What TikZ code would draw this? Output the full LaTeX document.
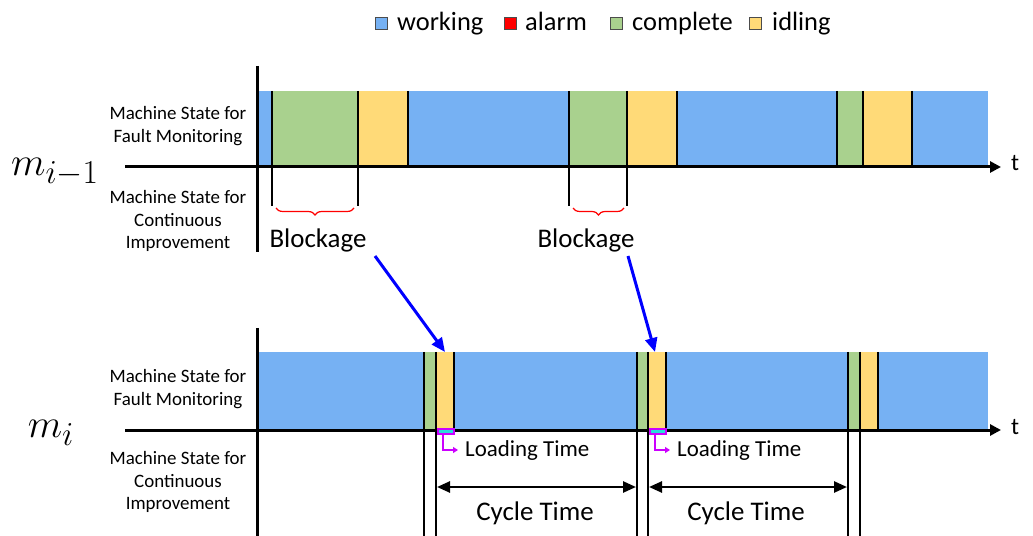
\documentclass[tikz,border=0pt]{standalone}
\usepackage{fontspec}
\setmainfont{Carlito}
\usetikzlibrary{arrows.meta,decorations.pathreplacing}
\definecolor{wblue}{RGB}{118,177,243}
\definecolor{cgreen}{RGB}{169,209,142}
\definecolor{iyellow}{RGB}{255,218,120}
\definecolor{alarmred}{RGB}{255,0,0}
\definecolor{lmag}{RGB}{204,0,255}
\definecolor{lcyan}{RGB}{40,220,220}
\begin{document}
\begin{tikzpicture}[x=1bp,y=-1bp,
  axis/.style={line width=3bp},
  sep/.style={line width=2bp},
  lab/.style={font=\fontsize{19}{23}\selectfont, align=center},
  big/.style={font=\fontsize{27}{32}\selectfont},
  leg/.style={font=\fontsize{26.5}{30}\selectfont, anchor=base west, inner sep=0},
  legbox/.style={draw=black!70, line width=0.6bp, minimum size=12bp, inner sep=0},
  blk/.style={draw=blue, line width=3bp, -{Triangle[length=14bp,width=12bp]}},
  cyc/.style={line width=2.5bp, {Triangle[length=13bp,width=11bp]}-{Triangle[length=13bp,width=11bp]}},
  ltime/.style={font=\fontsize{23}{27}\selectfont, anchor=west, inner sep=0},
  bracest/.style={red, line width=1.2bp, decorate, decoration={brace,mirror,amplitude=7bp}}
]
\useasboundingbox (0,0) rectangle (1033,536);

% legend
\node[legbox, fill=wblue] (lw) at (381,23.5) {};
\node[leg] (tw) at (397,31) {working};
\node[legbox, fill=alarmred] (la) at (510,23.5) {};
\node[leg] (ta) at (525,31) {alarm};
\node[legbox, fill=cgreen] (lc) at (616,23.5) {};
\node[leg] (tc) at (632,31) {complete};
\node[legbox, fill=iyellow] (li) at (755,23.5) {};
\node[leg] (ti) at (772,31) {idling};

% ---------- top panel ----------
\foreach \a/\b/\c in {257/272/wblue,272/358/cgreen,358/408/iyellow,408/569/wblue,569/627/cgreen,627/677/iyellow,677/837/wblue,837/863/cgreen,863/912/iyellow,912/988/wblue}
  \fill[\c] (\a,91) rectangle (\b,167);
\foreach \x in {272,358,408,569,627,677,837,863,912}
  \draw[sep] (\x,91) -- (\x,167);
\foreach \x in {272,358,569,627}
  \draw[sep] (\x,167) -- (\x,206);
\draw[axis] (257,66) -- (257,252);
\coordinate (t1s) at (125,167);
\coordinate (t1e) at (1001,167);
\draw[axis,-{Triangle[length=11bp,width=11bp]}] (t1s) -- (t1e);
\node[font=\fontsize{24}{28}\selectfont] (tt1) at (1015,163) {t};

\node[lab] (fm1) at (178,126) {Machine State for\\Fault Monitoring};
\node[lab] (ci1) at (178,221) {Machine State for\\Continuous\\Improvement};
\node (m1) at (55,172) {\scalebox{1.62}{\Huge$m_{i-1}$}};

\coordinate (br1a) at (276,208);
\coordinate (br1b) at (354,208);
\coordinate (br2a) at (573,208);
\coordinate (br2b) at (624,208);
\draw[bracest] (br1a) -- (br1b);
\draw[bracest] (br2a) -- (br2b);
\node[big] (b1) at (318,240) {Blockage};
\node[big] (b2) at (586,240) {Blockage};

% ---------- bottom panel ----------
\foreach \a/\b/\c in {257/424/wblue,424/436/cgreen,436/454/iyellow,454/637/wblue,637/648/cgreen,648/666/iyellow,666/848/wblue,848/860/cgreen,860/878/iyellow,878/988/wblue}
  \fill[\c] (\a,352) rectangle (\b,430);
\foreach \x in {424,436,454,637,648,666,848,860,878}
  \draw[sep] (\x,352) -- (\x,430);
\foreach \x in {424,436,637,648,848,860}
  \draw[sep] (\x,430) -- (\x,536);
\draw[axis] (257,328) -- (257,536);
\coordinate (t2s) at (125,430);
\coordinate (t2e) at (1001,430);
\draw[axis,-{Triangle[length=11bp,width=11bp]}] (t2s) -- (t2e);
\node[font=\fontsize{24}{28}\selectfont] (tt2) at (1015,427) {t};

\node[lab] (fm2) at (178,389) {Machine State for\\Fault Monitoring};
\node[lab] (ci2) at (178,482) {Machine State for\\Continuous\\Improvement};
\node (m2) at (51,433) {\scalebox{1.62}{\Huge$m_{i}$}};

% loading time markers
\node[draw=lmag, fill=lcyan, line width=1.5bp, minimum width=16bp, minimum height=5bp, inner sep=0, anchor=north west] (lt1) at (437,428) {};
\node[draw=lmag, fill=lcyan, line width=1.5bp, minimum width=16bp, minimum height=5bp, inner sep=0, anchor=north west] (lt2) at (649,428) {};
\coordinate (lb1) at (443,434);
\coordinate (lb2) at (655,434);
\coordinate (la1) at (458,450);
\coordinate (la2) at (670,450);
\draw[lmag, line width=1.8bp, -{Triangle[length=5bp,width=6bp]}] (lb1) |- (la1);
\draw[lmag, line width=1.8bp, -{Triangle[length=5bp,width=6bp]}] (lb2) |- (la2);
\node[ltime] (ltx1) at (465,451) {Loading Time};
\node[ltime] (ltx2) at (677,451) {Loading Time};

% cycle time
\coordinate (c1a) at (437,487);
\coordinate (c1b) at (636,487);
\coordinate (c2a) at (649,487);
\coordinate (c2b) at (847,487);
\draw[cyc] (c1a) -- (c1b);
\draw[cyc] (c2a) -- (c2b);
\node[big] (ct1) at (535,513) {Cycle Time};
\node[big] (ct2) at (746,513) {Cycle Time};

% blockage arrows
\coordinate (a1s) at (375,256);
\coordinate (a1e) at (445,352);
\coordinate (a2s) at (628,256);
\coordinate (a2e) at (655,352);
\draw[blk] (a1s) -- (a1e);
\draw[blk] (a2s) -- (a2e);
\end{tikzpicture}
\end{document}
